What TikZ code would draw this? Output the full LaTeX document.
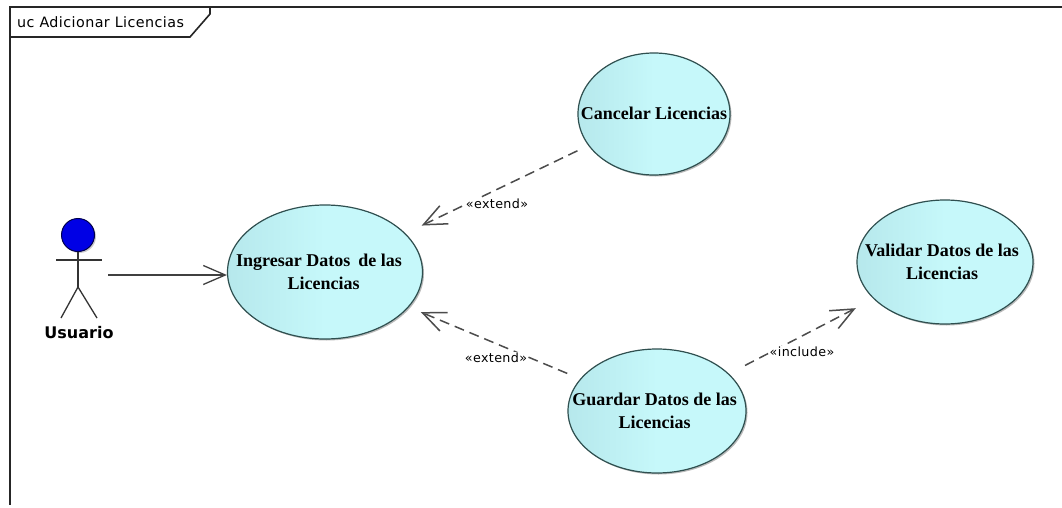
\documentclass[tikz,border=0pt]{standalone}
\usepackage{fontspec}
\setmainfont{Liberation Serif}
\newfontfamily\umlsans{DejaVu Sans}
\newfontfamily\umlspaced[LetterSpace=3]{DejaVu Sans}
\usetikzlibrary{arrows.meta,shapes.geometric,shadows,calc}
\definecolor{ucfill}{HTML}{C6F8FA}
\definecolor{ucdark}{HTML}{B6E8EC}
\definecolor{ucline}{HTML}{2F4F4F}
% text of a use case, taking no room in the ellipse; #1 = shift right, #2 = shift up
\newcommand\uctext[3]{\makebox[0pt]{\hspace{#1}\raisebox{\dimexpr #2-.59em\relax}{\smash{\begin{tabular}[c]{@{}c@{}}#3\end{tabular}}}}}
\tikzset{
  usecase/.style={ellipse,draw=ucline,line width=1.2pt,inner sep=0pt,
    left color=ucdark,right color=ucfill,middle color=ucfill,
    font=\fontsize{18}{23}\selectfont\bfseries,
    drop shadow={shadow xshift=1.5pt,shadow yshift=-1.5pt,fill=black!45,opacity=.6}},
  dep/.style={draw=black!70,line width=1.5pt,dash pattern=on 10pt off 6pt,
    shorten >=18pt,shorten <=12pt,
    -{Straight Barb[length=23pt,width=20pt,line width=1.5pt]}},
  assoc/.style={draw=black!75,line width=1.3pt,-{Straight Barb[length=22pt,width=19pt,line width=1.3pt]}},
  stereo/.style={fill=white,inner sep=1pt,font=\umlspaced\fontsize{12.7}{14}\selectfont},
  limb/.style={draw=black!80,line width=1.3pt},
  framed/.style={draw=black!85,line width=1.6pt}
}
\begin{document}
\begin{tikzpicture}[x=1pt,y=-1pt]
\useasboundingbox (0,0) rectangle (1062,508);
\fill[white] (0,0) rectangle (1062,508);
% frame
\coordinate (fTL) at (10,7);
\coordinate (fTR) at (1062,7);
\coordinate (fBL) at (10,505);
\draw[framed] (fTR) -- (fTL) -- (fBL);
\coordinate (tabA) at (210,7);
\coordinate (tabB) at (210,14);
\coordinate (tabC) at (190,37);
\coordinate (tabD) at (10,37);
\draw[framed] (tabA) -- (tabB) -- (tabC) -- (tabD);
\node[anchor=west,inner sep=0pt,font=\umlspaced\fontsize{14.3}{16}\selectfont] (title) at (17,22) {uc Adicionar Licencias};
% use cases
\node[usecase,minimum width=195pt,minimum height=134pt] (ingresar) at (325,272) {\uctext{-3pt}{-1pt}{Ingresar Datos\hspace{8pt}de las\kern9pt\\Licencias}};
\node[usecase,minimum width=152pt,minimum height=122pt] (cancelar) at (654,114) {\uctext{0pt}{0pt}{Cancelar Licencias}};
\node[usecase,minimum width=176pt,minimum height=124pt] (validar) at (945,262) {\uctext{-6pt}{0pt}{Validar Datos de las\\Licencias}};
\node[usecase,minimum width=178pt,minimum height=124pt] (guardar) at (657,411) {\uctext{-5pt}{0pt}{Guardar Datos de las\\Licencias}};
% actor
\node[circle,draw=black!70!blue,line width=1pt,fill=blue!90!black,minimum size=33pt,inner sep=0pt,
  drop shadow={shadow xshift=1.5pt,shadow yshift=-1.5pt,fill=black!40,opacity=.5}] (head) at (78,235) {};
\coordinate (armL) at (56,260);
\coordinate (armR) at (102,260);
\coordinate (hip) at (78,287);
\coordinate (footL) at (61,318);
\coordinate (footR) at (97,318);
\draw[limb] (head.south) -- (hip);
\draw[limb] (armL) -- (armR);
\draw[limb] (footL) -- (hip) -- (footR);
\node[inner sep=0pt,font=\umlsans\fontsize{16}{18}\selectfont\bfseries] (usuario) at (79,333) {Usuario};
\coordinate (assocstart) at (108,275);
% connectors
\draw[assoc] (assocstart) -- (ingresar.west |- assocstart);
\draw[dep] (cancelar) -- (ingresar);
\draw[dep,shorten >=13pt,shorten <=14pt] (guardar) -- (ingresar);
\draw[dep,shorten >=20pt,shorten <=18pt] (guardar) -- (validar);
\node[stereo] (lblA) at (497,204) {«extend»};
\node[stereo] (lblB) at (496,358) {«extend»};
\node[stereo] (lblC) at (802,352) {«include»};
\end{tikzpicture}
\end{document}
